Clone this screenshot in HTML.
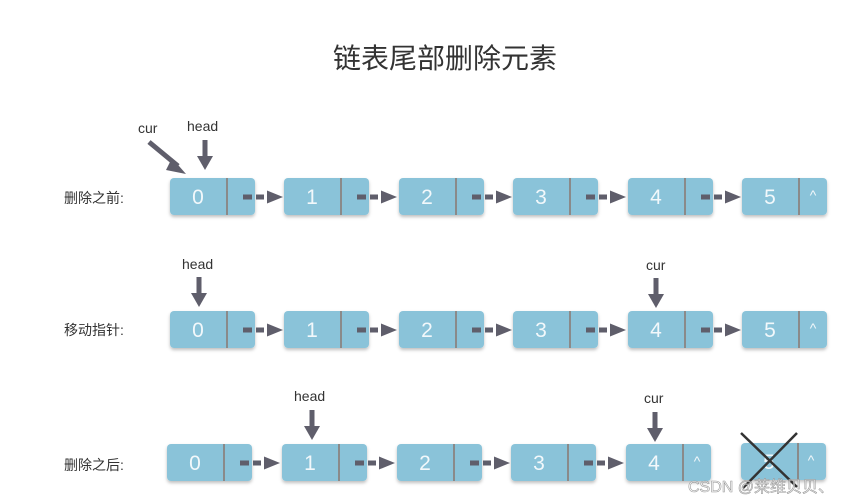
<!DOCTYPE html>
<html><head><meta charset="utf-8"><style>
body{margin:0;background:#fff;width:861px;height:503px;overflow:hidden}
svg{display:block}
text{font-family:"Liberation Sans","Noto Sans CJK SC",sans-serif}
</style></head><body>
<svg width="861" height="503" viewBox="0 0 861 503">
<defs>
<filter id="sh" x="-10%" y="-10%" width="130%" height="140%"><feDropShadow dx="0" dy="2" stdDeviation="1.5" flood-color="#000" flood-opacity="0.25"/></filter>
<g id="node"><rect x="0" y="0" width="85" height="37" rx="4" fill="#8ac3d9" filter="url(#sh)"/><line x1="57" y1="0" x2="57" y2="37" stroke="#8a8a8a" stroke-width="2"/></g>
<g id="arr"><rect x="73" y="16.5" width="9" height="5" fill="#5f5e6b"/><rect x="86" y="16.5" width="8" height="5" fill="#5f5e6b"/><polygon points="97,12.5 113,19 97,25.5" fill="#5f5e6b"/></g>
<g id="down"><rect x="-2.5" y="0" width="5" height="22" fill="#5f5e6b"/><polygon points="-8,16 8,16 0,30" fill="#5f5e6b"/></g>
</defs>
<text x="445" y="68" font-size="28" fill="#333" text-anchor="middle">链表尾部删除元素</text>
<g font-size="14" fill="#333">
<text x="64" y="203">删除之前:</text>
<text x="64" y="335">移动指针:</text>
<text x="64" y="470">删除之后:</text>
</g>
<g font-size="14" fill="#333">
<text x="138" y="133">cur</text>
<text x="187" y="131">head</text>
<text x="182" y="269">head</text>
<text x="646" y="270">cur</text>
<text x="294" y="401">head</text>
<text x="644" y="403">cur</text>
</g>
<line x1="149" y1="142" x2="178" y2="166" stroke="#5f5e6b" stroke-width="5"/>
<polygon points="172,158 186,174 166,170" fill="#5f5e6b"/>
<use href="#down" x="205" y="140"/>
<use href="#down" x="199" y="277"/>
<use href="#down" x="656" y="278"/>
<use href="#down" x="312" y="410"/>
<use href="#down" x="655" y="412"/>
<!-- row1 -->
<g>
<use href="#node" x="170" y="178"/><use href="#arr" x="170" y="178"/>
<use href="#node" x="284" y="178"/><use href="#arr" x="284" y="178"/>
<use href="#node" x="399" y="178"/><use href="#arr" x="399" y="178"/>
<use href="#node" x="513" y="178"/><use href="#arr" x="513" y="178"/>
<use href="#node" x="628" y="178"/><use href="#arr" x="628" y="178"/>
<use href="#node" x="742" y="178"/>
</g>
<g>
<use href="#node" x="170" y="311"/><use href="#arr" x="170" y="311"/>
<use href="#node" x="284" y="311"/><use href="#arr" x="284" y="311"/>
<use href="#node" x="399" y="311"/><use href="#arr" x="399" y="311"/>
<use href="#node" x="513" y="311"/><use href="#arr" x="513" y="311"/>
<use href="#node" x="628" y="311"/><use href="#arr" x="628" y="311"/>
<use href="#node" x="742" y="311"/>
</g>
<g>
<use href="#node" x="167" y="444"/><use href="#arr" x="167" y="444"/>
<use href="#node" x="282" y="444"/><use href="#arr" x="282" y="444"/>
<use href="#node" x="397" y="444"/><use href="#arr" x="397" y="444"/>
<use href="#node" x="511" y="444"/><use href="#arr" x="511" y="444"/>
<use href="#node" x="626" y="444"/>
<use href="#node" x="741" y="443"/>
</g>
<g font-size="21" fill="#f2f8fb" text-anchor="middle">
<text x="198" y="204">0</text><text x="312" y="204">1</text><text x="427" y="204">2</text><text x="541" y="204">3</text><text x="656" y="204">4</text><text x="770" y="204">5</text>
<text x="198" y="337">0</text><text x="312" y="337">1</text><text x="427" y="337">2</text><text x="541" y="337">3</text><text x="656" y="337">4</text><text x="770" y="337">5</text>
<text x="195" y="470">0</text><text x="310" y="470">1</text><text x="425" y="470">2</text><text x="539" y="470">3</text><text x="654" y="470">4</text><text x="769" y="469">5</text>
</g>
<g font-size="14" fill="#f2f8fb" text-anchor="middle">
<text x="813" y="200">^</text><text x="813" y="333">^</text><text x="697" y="466">^</text><text x="811" y="465">^</text>
</g>
<line x1="741" y1="433" x2="797" y2="487" stroke="#333" stroke-width="2.5"/>
<line x1="797" y1="433" x2="743" y2="488" stroke="#333" stroke-width="2.5"/>
<text x="688" y="492" font-size="16" fill="#fff" stroke="#999" stroke-width="0.6" fill-opacity="0.6">CSDN @莱维贝贝、</text>
</svg>
</body></html>
